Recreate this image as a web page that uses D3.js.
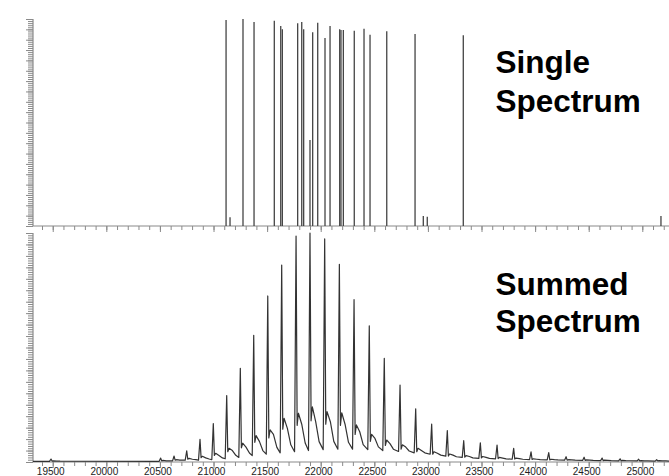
<!DOCTYPE html>
<html>
<head>
<meta charset="utf-8">
<script src="https://cdn.jsdelivr.net/npm/d3@7"></script>
<style>
    body { margin: 0; background: #fff; }
    svg { display: block; }
    .label { font-family: "Liberation Sans", Arial, sans-serif; font-weight: bold; font-size: 31.5px; fill: #000; }
    .tick text { font-family: "Liberation Sans", Arial, sans-serif; font-size: 10px; fill: #222; }
</style>
</head>
<body>
<svg width="669" height="476"></svg>
<script>
// single spectrum: stick peaks (mass, relative intensity)
let singleMass = [21117, 21154, 21275, 21378, 21567, 21627, 21642, 21785, 21823, 21841, 21900, 21925, 21972,
    22040, 22087, 22177, 22189, 22211, 22313, 22404, 22460, 22616, 22880, 22957, 22994, 23330, 25174];
let singleInt = [99.5, 4.2, 100, 98.6, 99.2, 96.6, 95.0, 97.9, 98.6, 95.0, 41.5, 93.6, 98.2,
    90.8, 96.6, 95.0, 94.7, 94.7, 94.3, 95.3, 92.4, 94.1, 92.8, 4.8, 4.5, 92.1, 4.8];

// summed spectrum: per charge-state peak, apex, dip after apex, two adduct shoulders,
// decaying tail and the trough before the next peak
let sumMass = [19484, 20507, 20632, 20750, 20874, 20998, 21123, 21250, 21375, 21506, 21636, 21770, 21900,
    22037, 22174, 22311, 22453, 22593, 22740, 22886, 23035, 23181, 23334, 23489, 23645, 23800, 23962,
    24127, 24289, 24457, 24625, 24793, 24966, 25134];
let sumApex = [1.3, 1.7, 2.6, 4.9, 9.9, 16.8, 29.0, 40.9, 55.3, 72.5, 86.0, 98.7, 100,
    97.4, 86.3, 70.9, 59.5, 45.3, 33.6, 23.2, 16.6, 13.7, 9.3, 8.4, 7.4, 6.0, 4.4,
    4.1, 2.3, 2.1, 1.7, 1.4, 1.2, 1.0];
let sumDip = [0.4, 0.5, 0.8, 1.2, 1.9, 2.9, 4.5, 6.2, 8.6, 10.5, 14.3, 16.0, 18.0,
    16.5, 16.0, 12.0, 9.0, 7.2, 5.6, 4.5, 3.4, 2.6, 2.1, 1.8, 1.5, 1.3, 1.1,
    0.9, 0.8, 0.7, 0.6, 0.5, 0.5, 0.5];
let sumShoulder1 = [0.5, 0.7, 1.0, 1.6, 2.5, 3.8, 6.0, 8.2, 11.5, 14.0, 19.1, 21.3, 24.1,
    22.0, 21.5, 16.2, 12.1, 9.6, 7.5, 6.0, 4.5, 3.5, 2.8, 2.4, 2.0, 1.7, 1.4,
    1.2, 1.0, 0.9, 0.8, 0.7, 0.6, 0.6];
let sumShoulder2 = [0.4, 0.5, 0.8, 1.2, 1.8, 2.8, 5.0, 6.5, 9.0, 12.1, 14.7, 16.5, 17.6,
    17.6, 16.5, 13.2, 10.3, 8.0, 6.5, 5.0, 3.8, 3.0, 2.4, 2.0, 1.7, 1.5, 1.2,
    1.0, 0.9, 0.8, 0.7, 0.6, 0.5, 0.5];
let sumTail = [0.35, 0.5, 0.8, 1.0, 1.3, 1.8, 2.9, 3.9, 5.0, 6.4, 7.5, 8.3, 8.9,
    9.0, 8.6, 7.6, 6.6, 5.6, 4.8, 4.0, 3.0, 2.3, 1.8, 1.6, 1.4, 1.2, 1.0,
    0.9, 0.8, 0.7, 0.6, 0.55, 0.45, 0.45];
let sumValley = [0.3, 0.5, 0.8, 0.8, 1.0, 1.4, 2.0, 2.8, 3.4, 4.0, 4.5, 5.0, 5.4,
    5.6, 5.6, 5.4, 5.0, 4.6, 4.0, 3.4, 2.6, 2.0, 1.6, 1.4, 1.2, 1.0, 0.9,
    0.8, 0.7, 0.6, 0.5, 0.5, 0.4, 0.4];
// mass offsets (Da) of the feature points after each apex
let featureOffset = {foot: -14, dip: 10, shoulder1: 22, shoulder2: 53, tail: 85};

let massDomain = [19316, 25249];
let minorTicks = d3.range(19400, 25300, 100);
let majorTicks = d3.range(19500, 25300, 500);
let intTicks = d3.range(0, 101, 1);
let intMajor = d3.range(0, 101, 5);

let svg = d3.select("svg");
let width = +svg.attr("width");
let left = 33;

let x = d3.scaleLinear().domain(massDomain).range([left, width]);
let yTop = d3.scaleLinear().domain([0, 100]).range([226, 19]);
let yBot = d3.scaleLinear().domain([0, 100]).range([462, 233]);

function drawAxes(y, withLabels) {
    let base = y.range()[0];
    // minor x ticks
    svg.append("g")
        .attr("transform", `translate(0,${base})`)
        .call(d3.axisBottom(x).tickValues(minorTicks).tickSize(4).tickFormat(""))
        .call(g => g.select(".domain").remove());
    let major = svg.append("g")
        .attr("transform", `translate(0,${base})`)
        .call(d3.axisBottom(x).tickValues(majorTicks).tickSize(6)
            .tickFormat(withLabels ? d3.format("d") : ""))
        .call(g => g.select(".domain").remove());
    major.selectAll(".tick text").attr("dx", "-2.5").attr("dy", 0).attr("y", 12.8);
    // y ticks, dense
    svg.append("g")
        .attr("transform", `translate(${left},0)`)
        .call(d3.axisLeft(y).tickValues(intTicks).tickSize(5).tickFormat(""))
        .call(g => g.select(".domain").remove());
    svg.append("g")
        .attr("transform", `translate(${left},0)`)
        .call(d3.axisLeft(y).tickValues(intMajor).tickSize(7).tickFormat(""))
        .call(g => g.select(".domain").remove());
    // axis lines
    svg.append("line")
        .attr("x1", left).attr("x2", width)
        .attr("y1", base).attr("y2", base)
        .attr("class", "axisline");
    svg.append("line")
        .attr("x1", left).attr("x2", left)
        .attr("y1", y.range()[1]).attr("y2", base)
        .attr("class", "axisline");
}

drawAxes(yTop, false);
drawAxes(yBot, true);

svg.selectAll(".tick line").attr("stroke", "#8a8a8a");
svg.selectAll(".axisline").attr("stroke", "#8a8a8a").attr("stroke-width", 1.2);

// single spectrum sticks
let sticks = singleMass.map((m, i) => ({mass: m, value: singleInt[i]}));
svg.append("g")
    .selectAll("line")
    .data(sticks)
    .enter().append("line")
    .attr("x1", d => x(d.mass)).attr("x2", d => x(d.mass))
    .attr("y1", yTop(0)).attr("y2", d => yTop(d.value))
    .attr("stroke", "#444")
    .attr("stroke-width", 1.3);

// summed spectrum trace
let trace = [[massDomain[0], sumValley[0]]];
let prevValley = sumValley[0];
for (let i = 0; i < sumMass.length; i++) {
    let m = sumMass[i];
    trace.push([m + featureOffset.foot, prevValley]);
    trace.push([m, sumApex[i]]);
    trace.push([m + featureOffset.dip, sumDip[i]]);
    trace.push([m + featureOffset.shoulder1, sumShoulder1[i]]);
    trace.push([m + featureOffset.shoulder2, sumShoulder2[i]]);
    trace.push([m + featureOffset.tail, sumTail[i]]);
    prevValley = sumValley[i];
}
trace.push([massDomain[1], prevValley]);

let line = d3.line()
    .x(d => x(d[0]))
    .y(d => yBot(d[1]));

svg.append("path")
    .datum(trace)
    .attr("d", line)
    .attr("fill", "none")
    .attr("stroke", "#333")
    .attr("stroke-width", 1.2)
    .attr("stroke-linejoin", "round");

// panel titles
let titles = [
    {text: "Single", y: 72.7},
    {text: "Spectrum", y: 111.5},
    {text: "Summed", y: 295},
    {text: "Spectrum", y: 331.7}
];
svg.selectAll("text.label")
    .data(titles)
    .enter().append("text")
    .attr("class", "label")
    .attr("x", 495.5)
    .attr("y", d => d.y)
    .text(d => d.text);
</script>
</body>
</html>
